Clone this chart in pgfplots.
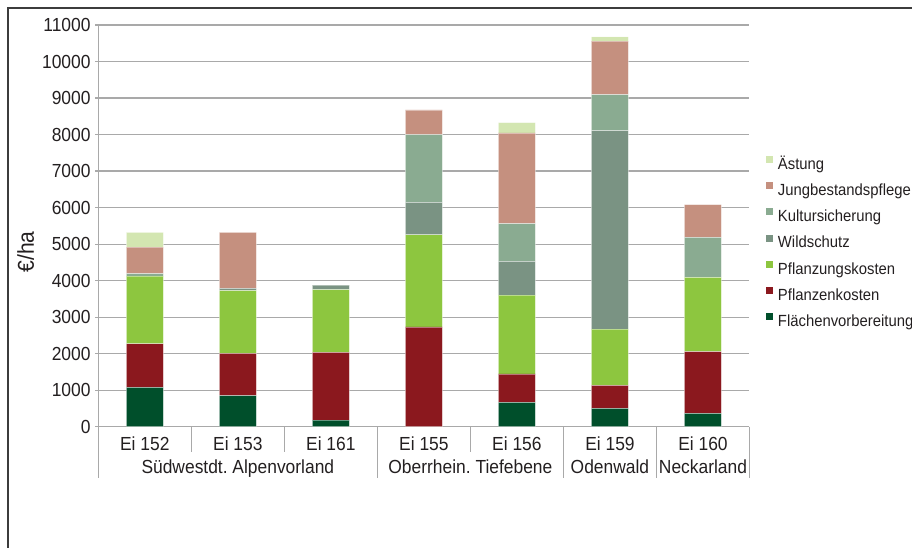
\documentclass[border=0pt]{standalone}
\usepackage{pgfplots}
\pgfplotsset{compat=1.18}
\usepackage{pgfplotstable}
\usepackage{fontspec}
\setmainfont{Liberation Sans}[FakeStretch=0.92]
\frenchspacing

\definecolor{cFlaeche}{HTML}{004F2B}
\definecolor{cPflanzen}{HTML}{8B181E}
\definecolor{cPflanzung}{HTML}{8DC63F}
\definecolor{cWild}{HTML}{7A9383}
\definecolor{cKultur}{HTML}{8AAB91}
\definecolor{cJung}{HTML}{C5907F}
\definecolor{cAst}{HTML}{D3E6B1}
\definecolor{cGrid}{HTML}{A9A9A9}
\definecolor{cText}{HTML}{231F20}
\definecolor{cFrame}{HTML}{3C3C3C}

\newcommand\ticksize{\fontsize{19}{22}\selectfont}
\newcommand\legendsize{\fontsize{16.2}{19}\selectfont}

% Kosten je Kostenart und Versuchsfläche (Euro je Hektar)
\pgfplotstableread{
x flaeche pflanzen pflanzung wild kultur jung ast
0 1080 1190 1850 0    75   724  403
1 852  1153 1722 64   0    1530 0
2 183  1850 1722 119  0    0    0
3 0    2733 2523 887  1855 677  0
4 667  777  2157 924  1033 2486 283
5 503  630  1536 5439 982  1466 121
6 366  1691 2029 0    1097 896  0
}\costs

\tikzset{
  sep line/.style={cGrid, line width=1.2bp},
  group label/.style={anchor=base, inner sep=0pt, font=\ticksize, text=cText, yshift=-46.6bp},
}

\begin{document}
\begin{tikzpicture}
\path[use as bounding box] (0,0) rectangle (912bp,548bp);
\draw[cFrame, line width=1.8bp] (7.6bp,-20bp) -- (7.6bp,539.7bp) -- (940bp,539.7bp);
\node[rotate=90, inner sep=0pt, text=cText, font=\fontsize{23}{27}\selectfont]
  at (25.8bp,296bp) {€/ha};
\begin{axis}[
  at={(98.3bp,121.3bp)}, anchor=south west,
  scale only axis, width=651.2bp, height=401.7bp,
  ybar stacked, bar width=37bp,
  xmin=-0.5, xmax=6.5, ymin=0, ymax=11000,
  clip=false,
  axis lines*=left,
  axis line style={cGrid, line width=1.2bp},
  ymajorgrids, grid style={cGrid, line width=1.2bp},
  ytick={0,1000,...,11000},
  xtick={0,...,6},
  xticklabels={Ei 152,Ei 153,Ei 161,Ei 155,Ei 156,Ei 159,Ei 160},
  tick align=outside, major tick length=3bp,
  xtick style={draw=none},
  ytick style={cGrid, line width=1.2bp},
  scaled y ticks=false,
  /pgf/number format/.cd, 1000 sep={}, assume math mode=true, /pgfplots/.cd,
  tick label style={font=\ticksize, text=cText},
  yticklabel style={anchor=east, inner sep=0pt, xshift=-4.6bp},
  xticklabel style={anchor=base, inner sep=0pt, yshift=-21bp},
  reverse legend,
  legend image code/.code={\fill[#1, draw=none] (0bp,2.4bp) rectangle (7bp,9.4bp);},
  legend cell align=left,
  legend style={draw=none, fill=none, inner sep=0pt, outer sep=0pt,
    at={(1.0253,0.674)}, anchor=north west,
    font=\legendsize, text=cText,
    nodes={inner sep=0pt, text height=11bp, text depth=3bp},
    row sep=9.8bp, column sep=5bp},
  every axis plot/.append style={draw=white, draw opacity=0.4, line width=0.7bp},
]
\addplot[fill=cFlaeche]   table[x=x, y=flaeche]   {\costs};
\addplot[fill=cPflanzen]  table[x=x, y=pflanzen]  {\costs};
\addplot[fill=cPflanzung] table[x=x, y=pflanzung] {\costs};
\addplot[fill=cWild]      table[x=x, y=wild]      {\costs};
\addplot[fill=cKultur]    table[x=x, y=kultur]    {\costs};
\addplot[fill=cJung]      table[x=x, y=jung]      {\costs};
\addplot[fill=cAst]       table[x=x, y=ast]       {\costs};
\legend{Flächenvorbereitung,Pflanzenkosten,Pflanzungskosten,Wildschutz,Kultursicherung,Jungbestandspflege,Ästung}

% Trennlinien unter der Kategorienachse
\draw[sep line] (axis cs:0.5,0) -- ++(0pt,-25bp);
\draw[sep line] (axis cs:1.5,0) -- ++(0pt,-25bp);
\draw[sep line] (axis cs:3.5,0) -- ++(0pt,-25bp);
\draw[sep line] (axis cs:-0.5,0) -- ++(0pt,-51.3bp);
\draw[sep line] (axis cs:2.5,0) -- ++(0pt,-51.3bp);
\draw[sep line] (axis cs:4.5,0) -- ++(0pt,-51.3bp);
\draw[sep line] (axis cs:5.5,0) -- ++(0pt,-51.3bp);
\draw[sep line] (axis cs:6.5,0) -- ++(0pt,-51.3bp);
% Wuchsgebiete
\node[group label] at (axis cs:1,0) {Südwestdt. Alpenvorland};
\node[group label] at (axis cs:3.5,0) {Oberrhein. Tiefebene};
\node[group label] at (axis cs:5,0) {Odenwald};
\node[group label] at (axis cs:6,0) {Neckarland};
\end{axis}
\end{tikzpicture}
\end{document}
